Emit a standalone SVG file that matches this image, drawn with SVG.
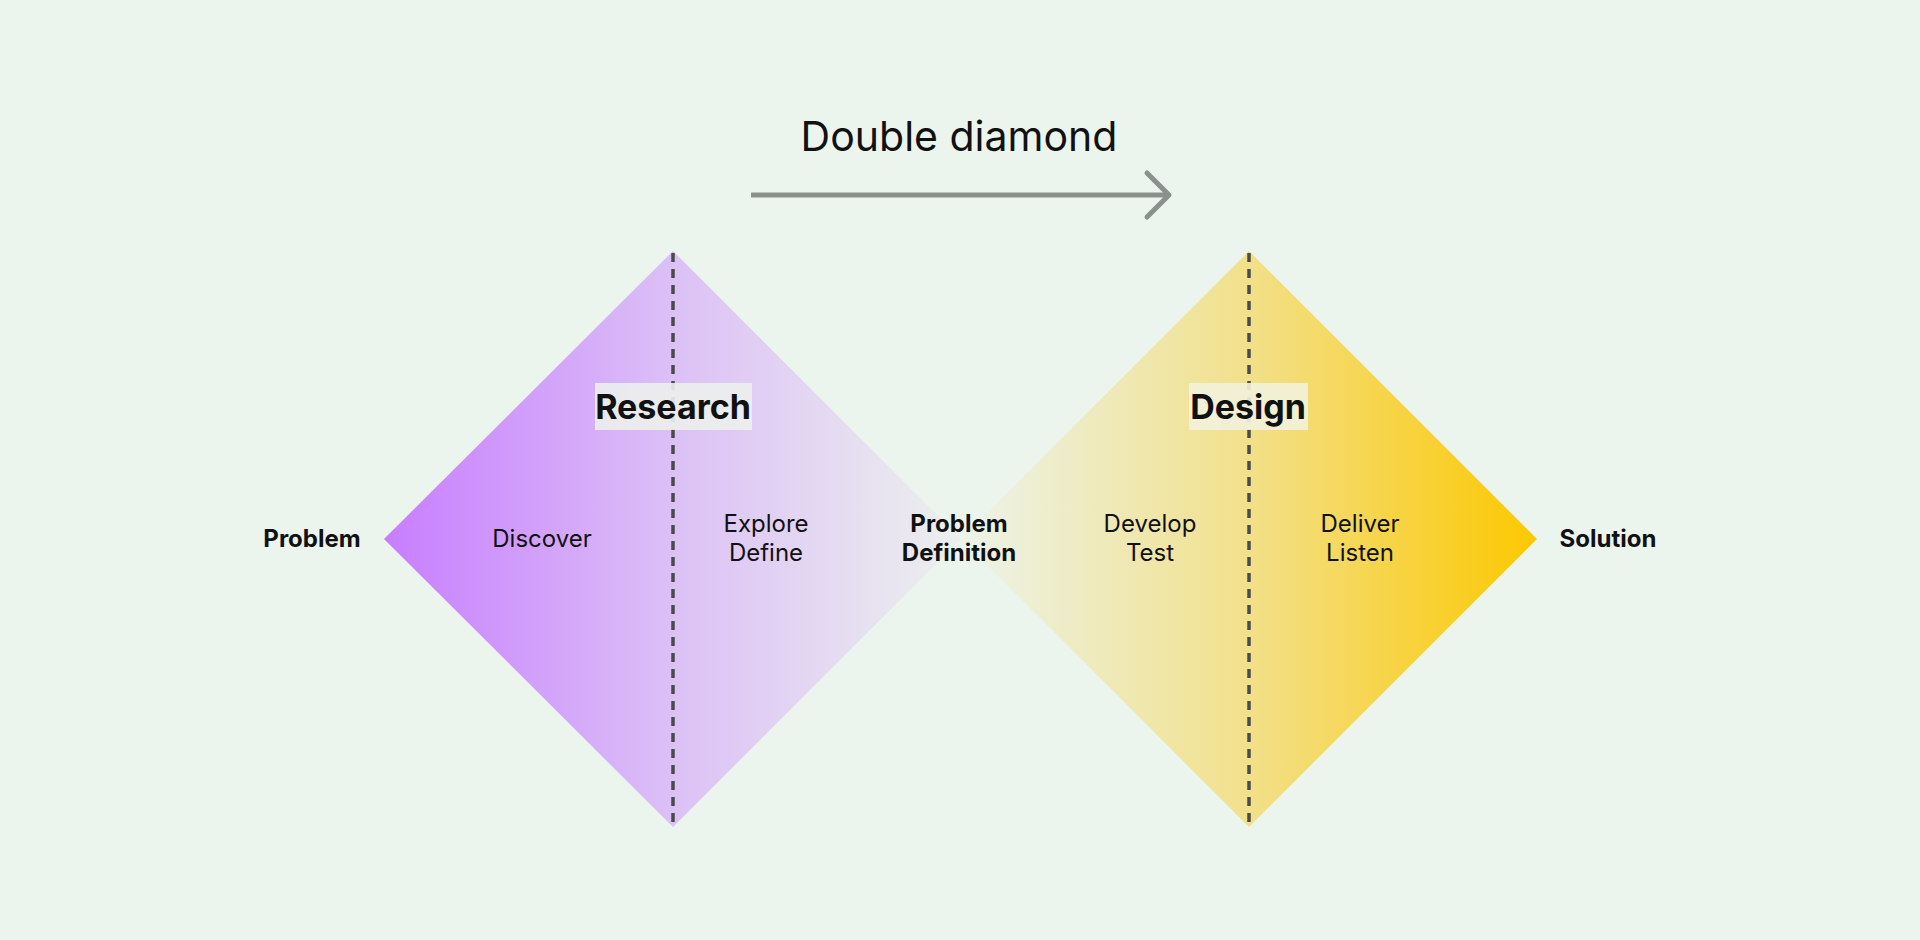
<svg xmlns="http://www.w3.org/2000/svg" width="1920" height="940" viewBox="0 0 1920 940">
<style>
.t{font-family:Inter,"Liberation Sans",sans-serif;fill:#111;text-anchor:middle}
.n{font-size:24px}
.b{font-size:24px;font-weight:700}
.h{font-size:34px;font-weight:700}
.dash{stroke:#4a4a4a;stroke-width:3.5;stroke-dasharray:9 7;fill:none}
</style>
<defs>
<linearGradient id="gp" x1="384" y1="0" x2="961" y2="0" gradientUnits="userSpaceOnUse">
<stop offset="0" stop-color="#c77dff"/><stop offset="0.5" stop-color="#dcc0f6"/><stop offset="1" stop-color="#ecf0ee"/>
</linearGradient>
<linearGradient id="gy" x1="961" y1="0" x2="1537" y2="0" gradientUnits="userSpaceOnUse">
<stop offset="0" stop-color="#ecf3ea"/><stop offset="0.5" stop-color="#f2e08a"/><stop offset="1" stop-color="#fcc800"/>
</linearGradient>
</defs>
<rect width="1920" height="940" fill="#ecf4ee"/>
<g id="title"><text class="t" x="959" y="151" style="font-size:41px;font-weight:400">Double diamond</text></g>
<g id="connectors">
<line x1="751" y1="195" x2="1168" y2="195" stroke="#8a918c" stroke-width="5"/>
<polyline points="1147,173 1169,195 1147,217" fill="none" stroke="#8a918c" stroke-width="5" stroke-linecap="round" stroke-linejoin="round"/>
</g>
<g id="research">
<polygon points="384,539 673,251 961,539 673,827" fill="url(#gp)"/>
<line class="dash" x1="673" y1="253" x2="673" y2="825"/>
<rect x="595" y="383" width="157" height="47" fill="#ecf0ec" opacity="0.9"/>
<text class="t h" x="673" y="419">Research</text>
</g>
<g id="design">
<polygon points="961,539 1249,251 1537,539 1249,827" fill="url(#gy)"/>
<line class="dash" x1="1249" y1="253" x2="1249" y2="825"/>
<rect x="1189" y="383" width="119" height="47" fill="#f2f2dc" opacity="0.9"/>
<text class="t h" x="1248" y="419">Design</text>
</g>
<g id="labels">
<text class="t b" x="312" y="547">Problem</text>
<text class="t n" x="542" y="547">Discover</text>
<text class="t n" x="766" y="532">Explore</text>
<text class="t n" x="766" y="561">Define</text>
<text class="t b" x="959" y="532">Problem</text>
<text class="t b" x="959" y="561">Definition</text>
<text class="t n" x="1150" y="532">Develop</text>
<text class="t n" x="1150" y="561">Test</text>
<text class="t n" x="1360" y="532">Deliver</text>
<text class="t n" x="1360" y="561">Listen</text>
<text class="t b" x="1608" y="547">Solution</text>
</g>
</svg>
